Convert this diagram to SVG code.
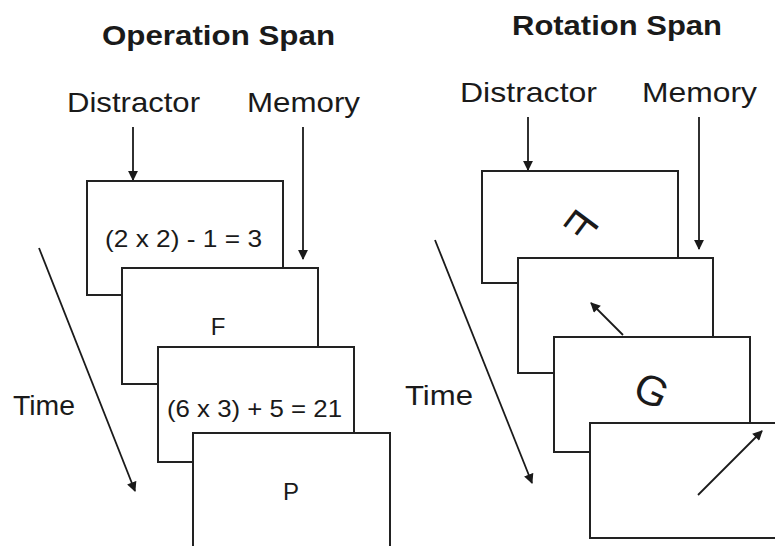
<svg xmlns="http://www.w3.org/2000/svg" width="775" height="546" viewBox="0 0 775 546">
<defs>
<marker id="ah" viewBox="0 0 10 10" refX="9" refY="5" markerWidth="6" markerHeight="5.5" markerUnits="strokeWidth" orient="auto">
<path d="M0,0 L10,5 L0,10 z" fill="#1a1a1a"/>
</marker>
<style>
.bx{fill:#fff;stroke:#222;stroke-width:2}
.ln{stroke:#1a1a1a;stroke-width:1.8;fill:none;marker-end:url(#ah)}
.t{font-family:"Liberation Sans",Arial,Helvetica,sans-serif;fill:#1a1a1a}
.ttl{font-size:27px;font-weight:bold}
.lbl{font-size:28px}
.bt{font-size:24px}
</style>
</defs>
<rect width="775" height="546" fill="#fff"/>
<g id="connectors">
<line class="ln" x1="133" y1="127" x2="133" y2="180"/>
<line class="ln" x1="303" y1="127" x2="303" y2="259"/>
<line class="ln" x1="39" y1="248" x2="135" y2="491"/>
<line class="ln" x1="528" y1="117" x2="528" y2="170"/>
<line class="ln" x1="699" y1="117" x2="699" y2="249"/>
<line class="ln" x1="435" y1="240" x2="532" y2="483"/>
</g>
<g id="operation-span">
<text class="t ttl" x="102" y="45" textLength="233" lengthAdjust="spacingAndGlyphs">Operation Span</text>
<text class="t lbl" x="67" y="112" textLength="133" lengthAdjust="spacingAndGlyphs">Distractor</text>
<text class="t lbl" x="247" y="112" textLength="113" lengthAdjust="spacingAndGlyphs">Memory</text>
<text class="t lbl" x="13" y="415" textLength="62" lengthAdjust="spacingAndGlyphs">Time</text>
<g id="op-box1"><rect class="bx" x="87" y="181" width="196" height="114"/>
<text class="t bt" x="105" y="247" textLength="157" lengthAdjust="spacingAndGlyphs">(2 x 2) - 1 = 3</text></g>
<g id="op-box2"><rect class="bx" x="122" y="268" width="196" height="116"/>
<text class="t bt" x="218" y="335" text-anchor="middle" font-size="22">F</text></g>
<g id="op-box3"><rect class="bx" x="158" y="347" width="196" height="115"/>
<text class="t bt" x="167" y="417" textLength="175" lengthAdjust="spacingAndGlyphs">(6 x 3) + 5 = 21</text></g>
<g id="op-box4"><rect class="bx" x="193" y="433" width="197" height="118"/>
<text class="t bt" x="291" y="500" text-anchor="middle">P</text></g>
</g>
<g id="rotation-span">
<text class="t ttl" x="512" y="35" textLength="210" lengthAdjust="spacingAndGlyphs">Rotation Span</text>
<text class="t lbl" x="460" y="102" textLength="137" lengthAdjust="spacingAndGlyphs">Distractor</text>
<text class="t lbl" x="642" y="102" textLength="115" lengthAdjust="spacingAndGlyphs">Memory</text>
<text class="t lbl" x="405" y="405" textLength="68" lengthAdjust="spacingAndGlyphs">Time</text>
<g id="rot-box1"><rect class="bx" x="482" y="171" width="196" height="112"/>
<text class="t" font-size="42" text-anchor="middle" transform="translate(581,225) rotate(-53) scale(-1,1)" x="0" y="15">F</text></g>
<g id="rot-box2"><rect class="bx" x="518" y="258" width="195" height="115"/>
<line class="ln" x1="623" y1="335" x2="591" y2="303"/></g>
<g id="rot-box3"><rect class="bx" x="554" y="337" width="196" height="115"/>
<text class="t" font-size="42" text-anchor="middle" transform="translate(652,390) rotate(25)" x="0" y="15">G</text></g>
<g id="rot-box4"><rect class="bx" x="590" y="423" width="200" height="115"/>
<line class="ln" x1="698" y1="495" x2="762" y2="431"/></g>
</g>
</svg>
